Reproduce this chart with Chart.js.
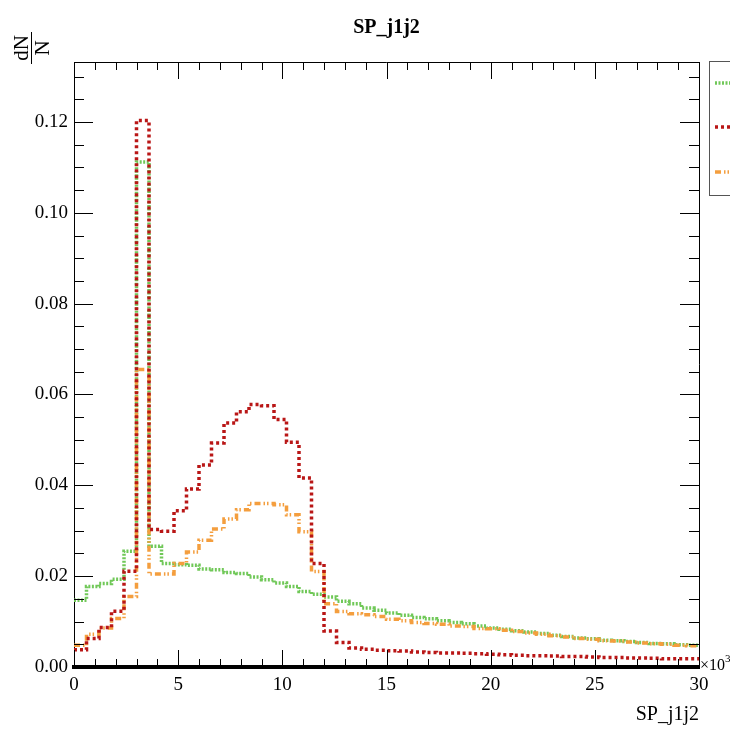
<!DOCTYPE html>
<html>
<head>
<meta charset="utf-8">
<script src="https://cdn.jsdelivr.net/npm/chart.js@4/dist/chart.umd.min.js"></script>
<style>
html, body { margin: 0; padding: 0; background: #fff; overflow: hidden; }
</style>
</head>
<body>
<canvas id="c" width="730" height="731"></canvas>
<script>
// histogram SP_j1j2, 50 bins over 0..30 (x10^3), normalised dN/N
const binWidth = 0.6
const xMin = 0
const xMax = 30
const yMax = 0.1332
const xTickLabels = [0, 5, 10, 15, 20, 25, 30]
const yTickLabels = [0, 0.02, 0.04, 0.06, 0.08, 0.10, 0.12]

const greenVals = [
  0.0147, 0.0177, 0.0184, 0.0193, 0.0255, 0.1112, 0.0266, 0.0228, 0.0225, 0.0224,
  0.0216, 0.0214, 0.0208, 0.0206, 0.0198, 0.0192, 0.0185, 0.0177, 0.0166, 0.0160,
  0.0154, 0.0145, 0.0139, 0.0130, 0.0125, 0.0119, 0.0114, 0.0109, 0.0106, 0.0102,
  0.0098, 0.0095, 0.0090, 0.0086, 0.0083, 0.0080, 0.0077, 0.0074, 0.0070, 0.0067,
  0.0064, 0.0062, 0.0059, 0.0058, 0.0056, 0.0054, 0.0052, 0.0051, 0.0049, 0.0048
]
const redVals = [
  0.0038, 0.0063, 0.0087, 0.0123, 0.0211, 0.1203, 0.0303, 0.0299, 0.0344, 0.0392,
  0.0445, 0.0493, 0.0537, 0.0562, 0.0578, 0.0575, 0.0545, 0.0495, 0.0416, 0.0228,
  0.0079, 0.0054, 0.0042, 0.0039, 0.0037, 0.0036, 0.0035, 0.0033, 0.0032, 0.0031,
  0.0031, 0.0030, 0.0029, 0.0028, 0.0027, 0.0026, 0.0025, 0.0025, 0.0024, 0.0023,
  0.0023, 0.0022, 0.0021, 0.0021, 0.0020, 0.0020, 0.0019, 0.0018, 0.0018, 0.0018
]
const orangeVals = [
  0.0048, 0.0072, 0.0086, 0.0107, 0.0155, 0.0655, 0.0205, 0.0205, 0.0228, 0.0253,
  0.0279, 0.0304, 0.0326, 0.0346, 0.0360, 0.0360, 0.0357, 0.0335, 0.0298, 0.0210,
  0.0139, 0.0122, 0.0117, 0.0115, 0.0111, 0.0105, 0.0102, 0.0098, 0.0096, 0.0094,
  0.0090, 0.0089, 0.0085, 0.0084, 0.0081, 0.0078, 0.0075, 0.0072, 0.0069, 0.0066,
  0.0063, 0.0061, 0.0058, 0.0057, 0.0055, 0.0053, 0.0051, 0.0050, 0.0048, 0.0047
]

function histPoints(vals){
  let pts = vals.map((v, i) => ({x: xMin + i * binWidth, y: v}))
  pts.push({x: xMax, y: vals[vals.length - 1]})
  return pts
}

const serif = 'Liberation Serif'

// ROOT-like frame, inner ticks, texts and legend box
const frameDeco = {
  id: 'frameDeco',
  afterDraw(chart){
    const ctx = chart.ctx
    const a = chart.chartArea
    const xs = chart.scales.x, ys = chart.scales.y
    ctx.save()
    ctx.strokeStyle = '#000'
    ctx.lineWidth = 1
    ctx.beginPath()
    ctx.moveTo(a.left, a.top + 0.5)
    ctx.lineTo(a.right + 0.5, a.top + 0.5)
    ctx.lineTo(a.right + 0.5, a.bottom)
    ctx.stroke()

    ctx.beginPath()
    for (let k = 0; k <= 26; k++){
      let py = Math.round(ys.getPixelForValue(k * 0.005)) + 0.5
      let len = (k % 4 === 0) ? 19 : 10
      ctx.moveTo(a.left, py); ctx.lineTo(a.left + len, py)
      ctx.moveTo(a.right, py); ctx.lineTo(a.right - len, py)
    }
    for (let k = 0; k <= 30; k++){
      let px = Math.round(xs.getPixelForValue(k)) + 0.5
      let len = (k % 5 === 0) ? 17 : 8
      ctx.moveTo(px, a.bottom); ctx.lineTo(px, a.bottom - len)
      ctx.moveTo(px, a.top); ctx.lineTo(px, a.top + len)
    }
    ctx.stroke()

    // title
    ctx.fillStyle = '#000'
    ctx.font = 'bold 20px "' + serif + '"'
    ctx.textAlign = 'center'
    ctx.textBaseline = 'alphabetic'
    ctx.fillText('SP_j1j2', (a.left + a.right) / 2, 33)

    // x axis title
    ctx.font = '20px "' + serif + '"'
    ctx.textAlign = 'right'
    ctx.fillText('SP_j1j2', a.right, 720)

    // x10^3 exponent
    ctx.textAlign = 'left'
    ctx.font = '16px "' + serif + '"'
    ctx.fillText('\u00d710', a.right + 1, 670)
    ctx.font = '11px "' + serif + '"'
    ctx.fillText('3', a.right + 26, 662)

    // y axis title dN/N as rotated fraction
    ctx.save()
    ctx.translate(31, 48)
    ctx.rotate(-Math.PI / 2)
    ctx.font = '21px "' + serif + '"'
    ctx.textAlign = 'center'
    ctx.textBaseline = 'alphabetic'
    ctx.fillText('dN', 0, -3)
    ctx.textBaseline = 'top'
    ctx.fillText('N', 0, 2)
    ctx.beginPath()
    ctx.moveTo(-16, 0.5); ctx.lineTo(16, 0.5)
    ctx.stroke()
    ctx.restore()

    // legend box (runs off the right edge)
    ctx.fillStyle = '#fff'
    ctx.fillRect(709.5, 61.5, 60, 134)
    ctx.strokeStyle = '#555'
    ctx.strokeRect(709.5, 61.5, 60, 134)
    const entries = [
      {y: 83, ds: chart.data.datasets[0]},
      {y: 127, ds: chart.data.datasets[1]},
      {y: 172, ds: chart.data.datasets[2]}
    ]
    for (let e of entries){
      ctx.strokeStyle = e.ds.borderColor
      ctx.lineWidth = e.ds.borderWidth
      ctx.setLineDash(e.ds.borderDash)
      ctx.beginPath()
      ctx.moveTo(715, e.y); ctx.lineTo(760, e.y)
      ctx.stroke()
    }
    ctx.restore()
  }
}

new Chart(document.getElementById('c'), {
  type: 'line',
  data: {
    datasets: [
      {
        label: 'green',
        data: histPoints(greenVals),
        borderColor: 'rgb(112, 200, 88)',
        borderWidth: 3.5,
        borderDash: [2, 1.5],
        stepped: 'before',
        order: 2
      },
      {
        label: 'red',
        data: histPoints(redVals),
        borderColor: 'rgb(185, 22, 22)',
        borderWidth: 3.5,
        borderDash: [3, 3],
        stepped: 'before',
        order: 0
      },
      {
        label: 'orange',
        data: histPoints(orangeVals),
        borderColor: 'rgb(244, 158, 62)',
        borderWidth: 3.5,
        borderDash: [6, 3, 1.5, 2, 1.5, 3],
        stepped: 'before',
        order: 1
      }
    ]
  },
  options: {
    responsive: false,
    animation: false,
    layout: {padding: {top: 62, right: 31, left: 0, bottom: 0}},
    elements: {point: {radius: 0}, line: {tension: 0, fill: false}},
    plugins: {legend: {display: false}, tooltip: {enabled: false}, title: {display: false}},
    scales: {
      x: {
        type: 'linear',
        min: xMin,
        max: xMax,
        grid: {display: false, drawTicks: false},
        border: {display: true, color: '#000', width: 4},
        afterBuildTicks: s => { s.ticks = xTickLabels.map(v => ({value: v})) },
        ticks: {
          padding: 7, color: '#000', maxRotation: 0, autoSkip: false,
          font: {family: serif, size: 19},
          callback: v => String(v)
        },
        afterFit: s => { s.height = 64 }
      },
      y: {
        type: 'linear',
        min: 0,
        max: yMax,
        grid: {display: false, drawTicks: false},
        border: {display: true, color: '#000', width: 1},
        afterBuildTicks: s => { s.ticks = yTickLabels.map(v => ({value: v})) },
        ticks: {
          padding: 6, color: '#000',
          font: {family: serif, size: 19},
          callback: v => v.toFixed(2)
        },
        afterFit: s => { s.width = 74 }
      }
    }
  },
  plugins: [frameDeco]
})
</script>
</body>
</html>
